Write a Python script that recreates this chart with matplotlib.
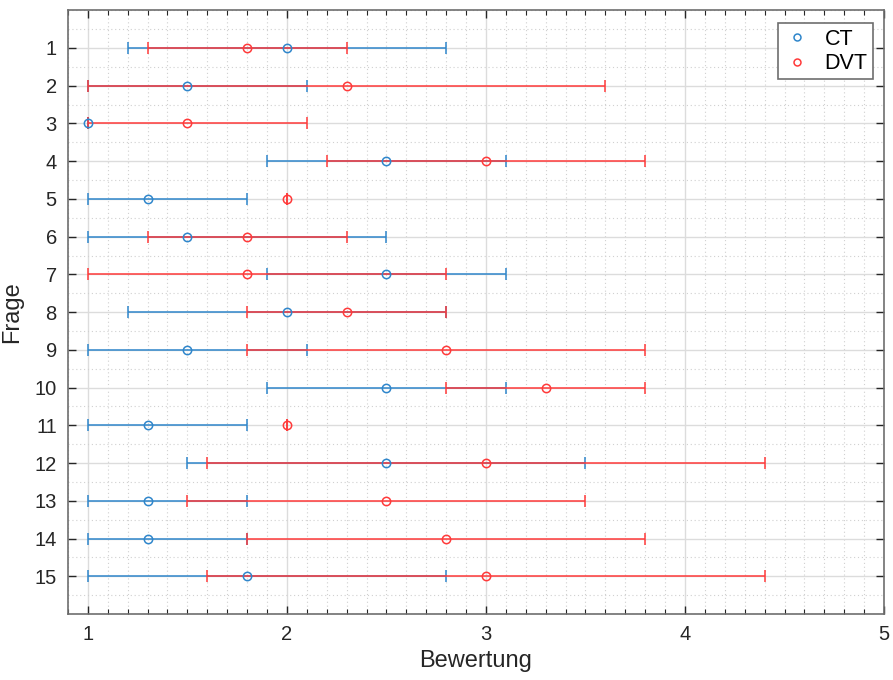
import matplotlib
matplotlib.use("Agg")
import matplotlib.pyplot as plt
from matplotlib.lines import Line2D
from matplotlib.ticker import MultipleLocator
import numpy as np

plt.rcParams['font.family'] = ['Liberation Sans', 'DejaVu Sans']

fragen = list(range(1, 16))
ct_mean = [2.0, 1.5, 1.0, 2.5, 1.3, 1.5, 2.5, 2.0, 1.5, 2.5, 1.3, 2.5, 1.3, 1.3, 1.8]
ct_low  = [1.2, 1.0, 1.0, 1.9, 1.0, 1.0, 1.9, 1.2, 1.0, 1.9, 1.0, 1.5, 1.0, 1.0, 1.0]
ct_high = [2.8, 2.1, 1.0, 3.1, 1.8, 2.5, 3.1, 2.8, 2.1, 3.1, 1.8, 3.5, 1.8, 1.8, 2.8]
dvt_mean = [1.8, 2.3, 1.5, 3.0, 2.0, 1.8, 1.8, 2.3, 2.8, 3.3, 2.0, 3.0, 2.5, 2.8, 3.0]
dvt_low  = [1.3, 1.0, 1.0, 2.2, 2.0, 1.3, 1.0, 1.8, 1.8, 2.8, 2.0, 1.6, 1.5, 1.8, 1.6]
dvt_high = [2.3, 3.6, 2.1, 3.8, 2.0, 2.3, 2.8, 2.8, 3.8, 3.8, 2.0, 4.4, 3.5, 3.8, 4.4]

blue = '#2F86CB'
red = '#FF3A3A'

fig = plt.figure(figsize=(8.93, 6.8), dpi=100)
ax = fig.add_axes([0.0761, 0.097, 0.9139, 0.888])

def draw(mean, low, high, color):
    mean = np.array(mean); low = np.array(low); high = np.array(high)
    xerr = np.vstack([mean - low, high - mean])
    ax.errorbar(mean, fragen, xerr=xerr, fmt='o', color=color, ecolor=color,
                mfc='none', mec=color, ms=6, mew=1.1, elinewidth=1.1,
                capsize=4.5, capthick=1.1, zorder=3)

draw(ct_mean, ct_low, ct_high, blue)
draw(dvt_mean, dvt_low, dvt_high, red)

ax.set_xlim(0.9, 5)
ax.set_ylim(16, 0)
ax.set_xticks([1, 2, 3, 4, 5])
ax.set_yticks(fragen)
ax.xaxis.set_minor_locator(MultipleLocator(0.1))
ax.yaxis.set_minor_locator(MultipleLocator(0.5))
ax.tick_params(axis='both', which='major', direction='in', top=True, right=True,
               length=6, width=1, color='#262626', labelsize=14.5, labelcolor='#262626', pad=8)
ax.tick_params(axis='x', which='minor', direction='in', top=True, bottom=True,
               length=3.5, width=0.8, color='#262626')
ax.tick_params(axis='y', which='minor', length=0)
ax.grid(True, which='major', color='#dcdcdc', linewidth=1.0, linestyle='-', zorder=0)
ax.grid(True, which='minor', color='#d0d0d0', linewidth=0.8, linestyle=(0, (1, 2.5)), zorder=0)
ax.set_axisbelow(True)
for s in ax.spines.values():
    s.set_color('#6e6e6e')
    s.set_linewidth(1.2)

ax.set_xlabel('Bewertung', fontsize=17, color='#262626', labelpad=4)
ax.set_ylabel('Frage', fontsize=17, color='#262626', labelpad=8)

handles = [Line2D([], [], marker='o', linestyle='none', mfc='none', mec=blue, ms=5, mew=1.1),
           Line2D([], [], marker='o', linestyle='none', mfc='none', mec=red, ms=5, mew=1.1)]
leg = ax.legend(handles, ['CT', 'DVT'], loc='upper right', fontsize=15.5, fancybox=False,
                framealpha=1, edgecolor='#6e6e6e', borderpad=0.25, handletextpad=0.7,
                labelspacing=0.15, handlelength=1.2, borderaxespad=0,
                bbox_to_anchor=(0.9865, 0.978))
leg.get_frame().set_linewidth(1.2)

fig.savefig('out.png', dpi=100)
